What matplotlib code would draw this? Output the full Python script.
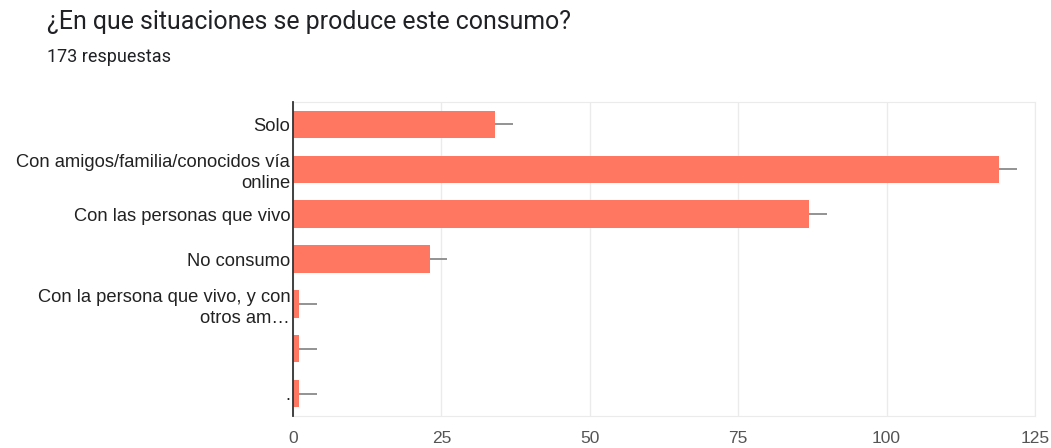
import matplotlib.pyplot as plt

# data
labels = ["Solo",
          "Con amigos/familia/conocidos vía\nonline",
          "Con las personas que vivo",
          "No consumo",
          "Con la persona que vivo, y con\notros am…",
          "",
          "."]
counts = [34, 119, 87, 23, 1, 1, 1]
whisker = [3, 3, 3, 3, 3, 3, 3]
xticks = [0, 25, 50, 75, 100, 125]

fig = plt.figure(figsize=(10.51, 4.48), dpi=100)
ax = fig.add_axes([0.2788, 0.0714, 0.706, 0.7009])

ypos = list(range(len(labels)))
ax.barh(ypos, counts, height=0.61, color="#ff7661", zorder=2)
ax.errorbar(counts, ypos, xerr=[[0]*len(counts), whisker], fmt="none",
            ecolor="#8a8a8a", elinewidth=1.3, capsize=0, zorder=3)

ax.set_ylim(6.5, -0.5)
ax.set_xlim(0, 125)
ax.set_xticks(xticks)
ax.set_yticks(ypos)
ax.set_yticklabels(labels, fontsize=13.2, color="#222222", family="Liberation Sans",
                   linespacing=1.3)
ax.tick_params(axis="x", length=0, pad=11, labelsize=12.5, labelcolor="#555555")
ax.tick_params(axis="y", length=0, pad=2)
for t in ax.get_xticklabels():
    t.set_family("Liberation Sans")

ax.grid(axis="x", color="#ebebeb", lw=1, zorder=0)
for s in ["top", "right", "bottom"]:
    ax.spines[s].set_color("#ebebeb")
ax.spines["left"].set_color("#333333")
ax.spines["left"].set_linewidth(1.3)
ax.spines["left"].set_zorder(4)

fig.text(47/1051, 1-22/448, "¿En que situaciones se produce este consumo?", fontsize=17.9,
         family="Roboto", color="#202124", va="center")
fig.text(47/1051, 1-57/448, "173 respuestas", fontsize=13, family="Roboto",
         color="#202124", va="center")

fig.savefig("out.png", dpi=100)
